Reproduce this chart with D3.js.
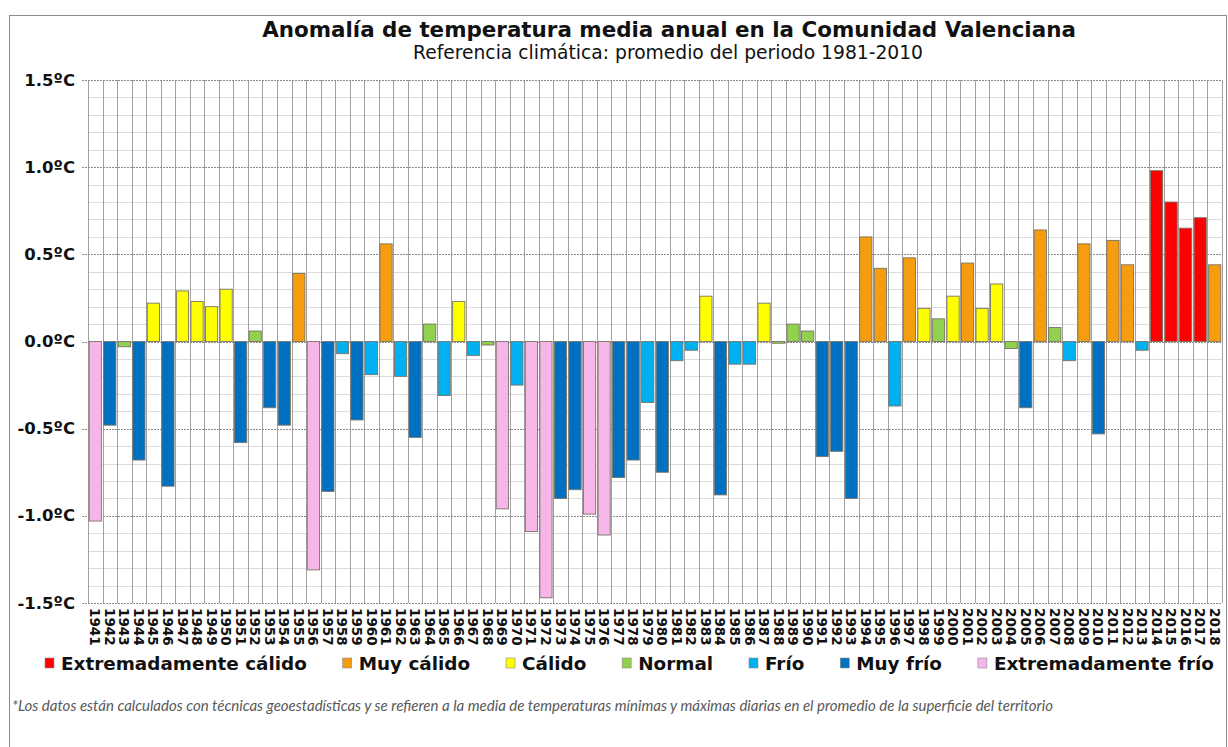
<!DOCTYPE html>
<html>
<head>
<meta charset="utf-8">
<script src="https://cdn.jsdelivr.net/npm/d3@7"></script>
<style>
  html, body { margin: 0; padding: 0; background: #ffffff; }
  svg { display: block; }
</style>
</head>
<body>
<svg id="chart" width="1228" height="747"></svg>
<script>
// ---------- DATA ----------
const years = d3.range(1941, 2019).map(String);
const anomalies = [
  -1.03, -0.48, -0.03, -0.68, 0.22, -0.83, 0.29, 0.23, 0.20, 0.30,
  -0.58, 0.06, -0.38, -0.48, 0.39, -1.31, -0.86, -0.07, -0.45, -0.19,
  0.56, -0.20, -0.55, 0.10, -0.31, 0.23, -0.08, -0.02, -0.96, -0.25,
  -1.09, -1.47, -0.90, -0.85, -0.99, -1.11, -0.78, -0.68, -0.35, -0.75,
  -0.11, -0.05, 0.26, -0.88, -0.13, -0.13, 0.22, -0.01, 0.10, 0.06,
  -0.66, -0.63, -0.90, 0.60, 0.42, -0.37, 0.48, 0.19, 0.13, 0.26,
  0.45, 0.19, 0.33, -0.04, -0.38, 0.64, 0.08, -0.11, 0.56, -0.53,
  0.58, 0.44, -0.05, 0.98, 0.80, 0.65, 0.71, 0.44
];
// category code per year: EC, MC, C, N, F, MF, EF
const classes = [
  "EF","MF","N","MF","C","MF","C","C","C","C",
  "MF","N","MF","MF","MC","EF","MF","F","MF","F",
  "MC","F","MF","N","F","C","F","N","EF","F",
  "EF","EF","MF","MF","EF","EF","MF","MF","F","MF",
  "F","F","C","MF","F","F","C","N","N","N",
  "MF","MF","MF","MC","MC","F","MC","C","N","C",
  "MC","C","C","N","MF","MC","N","F","MC","MF",
  "MC","MC","F","EC","EC","EC","EC","MC"
];
const legendCodes = ["EC","MC","C","N","F","MF","EF"];
const legendLabels = ["Extremadamente cálido","Muy cálido","Cálido","Normal","Frío","Muy frío","Extremadamente frío"];
const legendColors = ["#FF0000","#F59D0E","#FFFF00","#92D050","#00B0F0","#0070C0","#F6B6E8"];
const yTicks = [1.5, 1.0, 0.5, 0.0, -0.5, -1.0, -1.5];
const yTickLabels = ["1.5ºC","1.0ºC","0.5ºC","0.0ºC","-0.5ºC","-1.0ºC","-1.5ºC"];
const minorTicks = d3.range(-15, 16).map(v => v / 10);

const titleText = "Anomalía de temperatura media anual en la Comunidad Valenciana";
const subtitleText = "Referencia climática: promedio del periodo 1981-2010";
const footnoteText = "*Los datos están calculados con técnicas geoestadísticas y se refieren a la media de temperaturas mínimas y máximas diarias en el promedio de la superficie del territorio";

// ---------- LAYOUT ----------
const svg = d3.select("#chart");
const plot = { left: 88, right: 1222, top: 80, bottom: 603 };

const x = d3.scaleBand().domain(years).range([plot.left, plot.right]).paddingInner(0).paddingOuter(0);
const y = d3.scaleLinear().domain([-1.5, 1.5]).range([plot.bottom, plot.top]);
const color = d3.scaleOrdinal().domain(legendCodes).range(legendColors);

function fitText(sel, targetWidth, startSize) {
  sel.style("font-size", startSize + "px");
  const w = sel.node().getComputedTextLength();
  const fs = startSize * targetWidth / w;
  sel.style("font-size", fs.toFixed(2) + "px");
  return fs;
}

// outer frame
svg.append("rect")
  .attr("x", 9.5).attr("y", 15.5)
  .attr("width", 1217).attr("height", 740)
  .attr("fill", "none").attr("stroke", "#8c8c8c").attr("stroke-width", 1);

// minor horizontal grid
svg.append("g")
  .selectAll("line")
  .data(minorTicks.filter(v => Math.round(v * 10) % 5 !== 0))
  .join("line")
  .attr("x1", plot.left).attr("x2", plot.right)
  .attr("y1", d => Math.round(y(d)) + 0.5).attr("y2", d => Math.round(y(d)) + 0.5)
  .attr("stroke", "#dcdcdc").attr("stroke-width", 1);

// vertical grid at category boundaries
const boundaries = years.map(yr => x(yr)).concat([plot.right]);
svg.append("g")
  .selectAll("line")
  .data(boundaries)
  .join("line")
  .attr("x1", d => Math.round(d) + 0.5).attr("x2", d => Math.round(d) + 0.5)
  .attr("y1", plot.top).attr("y2", plot.bottom)
  .attr("stroke", "#a0a0a0").attr("stroke-width", 1);

// major horizontal grid (dashed)
svg.append("g")
  .selectAll("line")
  .data(yTicks)
  .join("line")
  .attr("x1", plot.left - 6).attr("x2", plot.right)
  .attr("y1", d => Math.round(y(d)) + 0.5).attr("y2", d => Math.round(y(d)) + 0.5)
  .attr("stroke", "#8a8a8a").attr("stroke-width", 1)
  .attr("stroke-dasharray", "2,1");

// bars
const bw = x.bandwidth();
svg.append("g")
  .selectAll("rect")
  .data(years.map((yr, i) => ({ yr, v: anomalies[i], c: classes[i] })))
  .join("rect")
  .attr("x", d => x(d.yr) + bw * 0.08)
  .attr("width", bw * 0.84)
  .attr("y", d => y(Math.max(0, d.v)))
  .attr("height", d => Math.abs(y(d.v) - y(0)))
  .attr("fill", d => color(d.c))
  .attr("stroke", "#7a7466").attr("stroke-width", 0.9);

// y axis labels
svg.append("g")
  .selectAll("text")
  .data(yTicks)
  .join("text")
  .attr("x", 75)
  .attr("y", d => y(d))
  .attr("text-anchor", "end")
  .attr("dominant-baseline", "central")
  .attr("font-family", "DejaVu Sans, Verdana, sans-serif")
  .attr("font-weight", "bold")
  .style("font-size", "16.5px")
  .attr("fill", "#111")
  .text((d, i) => yTickLabels[i]);

// x axis labels (rotated)
svg.append("g")
  .selectAll("text")
  .data(years)
  .join("text")
  .attr("transform", d => `translate(${x(d) + bw / 2},${plot.bottom + 5}) rotate(90)`)
  .attr("text-anchor", "start")
  .attr("dominant-baseline", "central")
  .attr("font-family", "DejaVu Sans, Verdana, sans-serif")
  .attr("font-weight", "bold")
  .style("font-size", "13.5px")
  .attr("fill", "#111")
  .text(d => d);

// title
const title = svg.append("text")
  .attr("x", 669).attr("y", 37)
  .attr("text-anchor", "middle")
  .attr("font-family", "DejaVu Sans, Verdana, sans-serif")
  .attr("font-weight", "bold")
  .attr("fill", "#111")
  .text(titleText);
fitText(title, 814, 19);

const subtitle = svg.append("text")
  .attr("x", 668).attr("y", 59)
  .attr("text-anchor", "middle")
  .attr("font-family", "DejaVu Sans, Verdana, sans-serif")
  .attr("fill", "#111")
  .text(subtitleText);
fitText(subtitle, 510, 16);

// legend: same font size for all entries, items spread evenly from left to right
const legendLeft = 45, legendRight = 1214, sq = 10, sqGap = 6;
const legend = svg.append("g");
const texts = legendLabels.map(lbl => legend.append("text")
  .attr("y", 670)
  .attr("font-family", "DejaVu Sans, Verdana, sans-serif")
  .attr("font-weight", "bold")
  .attr("fill", "#111")
  .text(lbl));
const lfs = fitText(texts[0], 246, 17);
texts.forEach(t => t.style("font-size", lfs.toFixed(2) + "px"));
const widths = texts.map(t => t.node().getComputedTextLength());
const totalItems = d3.sum(widths) + legendLabels.length * (sq + sqGap);
const between = (legendRight - legendLeft - totalItems) / (legendLabels.length - 1);
let cx = legendLeft;
legendCodes.forEach((code, i) => {
  legend.append("rect")
    .attr("x", cx).attr("y", 658)
    .attr("width", sq - 1).attr("height", sq)
    .attr("fill", legendColors[i])
    .attr("stroke", "#8a8a8a").attr("stroke-width", 0.6);
  texts[i].attr("x", cx + sq + sqGap);
  cx += sq + sqGap + widths[i] + between;
});

// footnote
const foot = svg.append("text")
  .attr("x", 12).attr("y", 711)
  .attr("font-family", "Lato, Open Sans, sans-serif")
  .attr("font-style", "italic")
  .attr("fill", "#595959")
  .text(footnoteText);
fitText(foot, 1041, 14);
</script>
</body>
</html>
